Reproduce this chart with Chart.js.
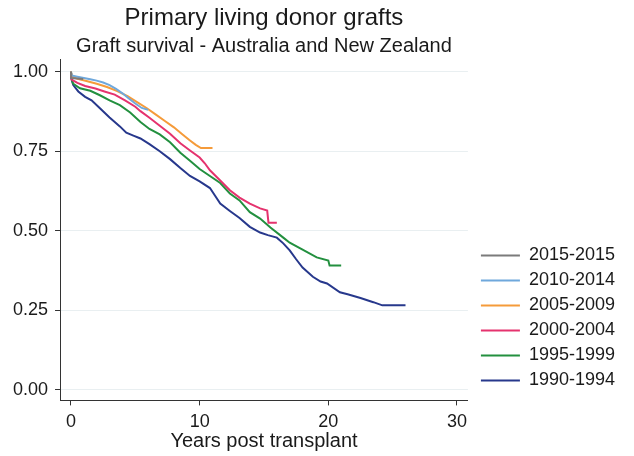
<!DOCTYPE html>
<html>
<head>
<meta charset="utf-8">
<title>Primary living donor grafts</title>
<script src="https://cdn.jsdelivr.net/npm/chart.js@4"></script>
<style>
  body { margin: 0; background: #fff; }
</style>
</head>
<body>
<canvas id="survival" width="634" height="456"></canvas>
<script>
const cohorts = ['2015-2015', '2010-2014', '2005-2009', '2000-2004', '1995-1999', '1990-1994'];
const colours = ['#7b7b7b', '#6fa8dc', '#f59b3a', '#e5336e', '#23903f', '#27388c'];

// years post transplant / survival proportion, one pair per cohort
const years2015 = [0, 0.02, 0.95];
const surv2015 = [1.0, 0.98, 0.977];

const years2010 = [0, 0.05, 0.5, 1.0, 1.5, 2.0, 2.5, 3.0, 3.5, 4.0, 4.5, 5.0, 5.5, 6.0];
const surv2010 = [1.0, 0.988, 0.984, 0.98, 0.976, 0.972, 0.966, 0.958, 0.946, 0.932, 0.916, 0.9, 0.886, 0.88];

const years2005 = [0, 0.05, 0.5, 1.2, 2.0, 2.8, 3.6, 4.4, 5.2, 5.9, 6.6, 7.3, 8.0, 8.6, 9.2, 9.7, 10.1, 11.0];
const surv2005 = [1.0, 0.985, 0.978, 0.971, 0.962, 0.952, 0.939, 0.923, 0.903, 0.885, 0.865, 0.845, 0.825, 0.805, 0.785, 0.77, 0.76, 0.76];

const years2000 = [0, 0.05, 0.5, 1.1, 1.9, 2.6, 3.4, 4.2, 5.0, 5.4, 6.1, 6.9, 7.7, 8.5, 9.25, 10.0, 10.4, 10.8, 11.6, 12.35, 13.1, 13.9, 14.7, 15.25, 15.35, 16.0];
const surv2000 = [1.0, 0.975, 0.965, 0.955, 0.947, 0.938, 0.928, 0.91, 0.89, 0.876, 0.855, 0.83, 0.805, 0.775, 0.752, 0.73, 0.712, 0.69, 0.658, 0.627, 0.604, 0.585, 0.57, 0.563, 0.525, 0.525];

const years1995 = [0, 0.05, 0.15, 0.7, 1.5, 2.25, 3.0, 3.8, 4.6, 5.4, 6.1, 6.9, 7.7, 8.5, 9.25, 10.0, 10.8, 11.6, 12.35, 13.1, 13.9, 14.7, 15.5, 16.5, 17.0, 18.0, 19.1, 20.0, 20.1, 21.0];
const surv1995 = [1.0, 0.98, 0.963, 0.948, 0.94, 0.926, 0.91, 0.895, 0.872, 0.842, 0.82, 0.803, 0.778, 0.745, 0.72, 0.694, 0.672, 0.65, 0.617, 0.595, 0.558, 0.538, 0.51, 0.478, 0.462, 0.44, 0.416, 0.406, 0.39, 0.39];

const years1990 = [0, 0.05, 0.18, 0.57, 1.1, 1.6, 2.25, 3.0, 3.8, 4.3, 4.85, 5.4, 6.1, 6.9, 7.7, 8.5, 9.25, 10.0, 10.8, 11.2, 11.6, 12.35, 13.1, 13.9, 14.7, 15.3, 16.0, 16.5, 17.0, 17.5, 18.0, 18.8, 19.4, 19.9, 20.9, 21.5, 22.5, 23.5, 24.2, 26.0];
const surv1990 = [1.0, 0.975, 0.958, 0.938, 0.921, 0.91, 0.885, 0.856, 0.828, 0.808, 0.799, 0.79, 0.772, 0.75, 0.725, 0.697, 0.672, 0.655, 0.634, 0.61, 0.585, 0.562, 0.54, 0.512, 0.494, 0.486, 0.478, 0.46, 0.438, 0.41, 0.384, 0.355, 0.34, 0.334, 0.306, 0.3, 0.288, 0.275, 0.265, 0.265];

const xTicks = [0, 10, 20, 30];
const yTicks = [0, 0.25, 0.5, 0.75, 1];

const allYears = [years2015, years2010, years2005, years2000, years1995, years1990];
const allSurv = [surv2015, surv2010, surv2005, surv2000, surv1995, surv1990];

Chart.defaults.font.family = 'Arial, "Liberation Sans", sans-serif';
Chart.defaults.color = '#1a1a1a';

const datasets = cohorts.map((name, i) => ({
  label: name,
  data: allYears[i].map((t, j) => ({ x: t, y: allSurv[i][j] })),
  borderColor: colours[i],
  backgroundColor: colours[i],
  borderWidth: 2,
  pointRadius: 0,
  tension: 0,
  fill: false
}));

// push the legend a little away from the plot and up from the bottom
const legendNudge = {
  id: 'legendNudge',
  afterLayout(chart) {
    const lg = chart.legend;
    lg.left += 6; lg.right += 6;
    lg.top -= 4; lg.bottom -= 4;
  }
};

new Chart(document.getElementById('survival'), {
  type: 'line',
  data: { datasets },
  plugins: [legendNudge],
  options: {
    responsive: false,
    animation: false,
    layout: { padding: { left: 6, right: 15, top: 0, bottom: 0 } },
    plugins: {
      title: {
        display: true,
        text: 'Primary living donor grafts',
        fullSize: false,
        font: { size: 24, weight: 'normal' },
        padding: { top: 4, bottom: 0 }
      },
      subtitle: {
        display: true,
        text: 'Graft survival - Australia and New Zealand',
        fullSize: false,
        font: { size: 20 },
        color: '#1a1a1a',
        padding: { top: 2, bottom: 1 }
      },
      legend: {
        position: 'right',
        align: 'end',
        fullSize: false,
        labels: {
          boxWidth: 39,
          boxHeight: 2,
          padding: 7,
          font: { size: 18 },
          generateLabels: chart => chart.data.datasets.map((ds, i) => ({
            text: ds.label,
            fillStyle: ds.borderColor,
            strokeStyle: ds.borderColor,
            lineWidth: 0,
            fontColor: '#1a1a1a',
            hidden: false,
            datasetIndex: i
          }))
        }
      },
      tooltip: { enabled: false }
    },
    scales: {
      x: {
        type: 'linear',
        min: -0.85,
        max: 30.85,
        afterBuildTicks: axis => { axis.ticks = xTicks.map(v => ({ value: v })); },
        ticks: { font: { size: 18 }, padding: 6, maxRotation: 0, color: '#1a1a1a' },
        grid: { drawOnChartArea: false, tickLength: 5, tickColor: '#333', lineWidth: 1 },
        border: { color: '#333', width: 1 },
        title: {
          display: true,
          text: 'Years post transplant',
          font: { size: 20 },
          color: '#1a1a1a',
          padding: { top: -10, bottom: 3 }
        }
      },
      y: {
        min: -0.034,
        max: 1.0375,
        afterBuildTicks: axis => { axis.ticks = yTicks.map(v => ({ value: v })); },
        ticks: { font: { size: 18 }, padding: 7, color: '#1a1a1a', callback: v => v.toFixed(2) },
        grid: { color: '#e9eff1', tickLength: 5, tickColor: '#333', lineWidth: 1 },
        border: { color: '#333', width: 1 }
      }
    }
  }
});
</script>
</body>
</html>
